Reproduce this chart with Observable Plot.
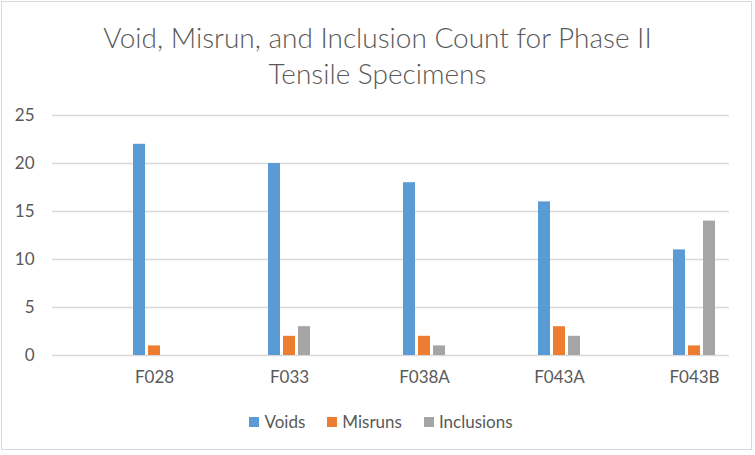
<!DOCTYPE html>
<html>
<head>
<meta charset="utf-8">
<script src="https://cdn.jsdelivr.net/npm/d3@7"></script>
<script src="https://cdn.jsdelivr.net/npm/@observablehq/plot@0.6"></script>
<style>
  html, body { margin: 0; padding: 0; background: #fff; }
  #chart { position: relative; width: 755px; height: 455px; overflow: hidden; font-family: Lato, "Open Sans", sans-serif; color: #595959; }
  #border { position: absolute; left: 1px; top: 1px; width: 749px; height: 447px; border: 1.5px solid #d9d9d9; }
  #title { position: absolute; left: 0; top: 19px; width: 755px; text-align: center; font-size: 28px; font-weight: 300; line-height: 36px; color: #595959; }
  #plot { position: absolute; left: 0; top: 95px; }
  #legend { position: absolute; left: 0; top: 410px; width: 762px; display: flex; justify-content: center; font-size: 17px; line-height: 24px; }
  .item { display: flex; align-items: center; margin: 0 11px; }
  .sw { width: 10px; height: 10px; margin-right: 5px; }
</style>
</head>
<body>
<div id="chart">
  <div id="border"></div>
  <div id="title">Void, Misrun, and Inclusion Count for Phase II<br>Tensile Specimens</div>
  <div id="plot"></div>
  <div id="legend"></div>
</div>
<script>
const categories = ["F028", "F033", "F038A", "F043A", "F043B"];
const voids = [22, 20, 18, 16, 11];
const misruns = [1, 2, 2, 3, 1];
const inclusions = [0, 3, 1, 2, 14];
const seriesNames = ["Voids", "Misruns", "Inclusions"];
const seriesColors = ["#5B9BD5", "#ED7D31", "#A5A5A5"];
const yTicks = [0, 5, 10, 15, 20, 25];

const table = categories.map((c, i) => ({cat: c, Voids: voids[i], Misruns: misruns[i], Inclusions: inclusions[i]}));

const plot = Plot.plot({
  width: 755,
  height: 305,
  marginLeft: 52,
  marginRight: 26,
  marginTop: 20,
  marginBottom: 45,
  style: {fontFamily: "Lato, 'Open Sans', sans-serif", fontSize: "17px", color: "#595959", background: "transparent"},
  x: {domain: categories, range: [86, 763], paddingInner: 0.911, paddingOuter: 0.4555, align: 0.5, label: null, tickSize: 0, tickPadding: 15},
  y: {domain: [0, 25], ticks: yTicks, label: null, tickSize: 0, tickPadding: 18, tickFormat: d => String(d)},
  marks: [
    Plot.gridY(yTicks, {stroke: "#d9d9d9", strokeOpacity: 1, strokeWidth: 1.5}),
    ...seriesNames.map((s, k) => Plot.barY(table, {x: "cat", y: s, fill: seriesColors[k], dx: (k - 1) * 15}))
  ]
});
document.getElementById("plot").appendChild(plot);

const legend = document.getElementById("legend");
seriesNames.forEach((s, k) => {
  const item = document.createElement("div");
  item.className = "item";
  const sw = document.createElement("div");
  sw.className = "sw";
  sw.style.background = seriesColors[k];
  const lab = document.createElement("span");
  lab.textContent = s;
  item.appendChild(sw);
  item.appendChild(lab);
  legend.appendChild(item);
});
</script>
</body>
</html>
